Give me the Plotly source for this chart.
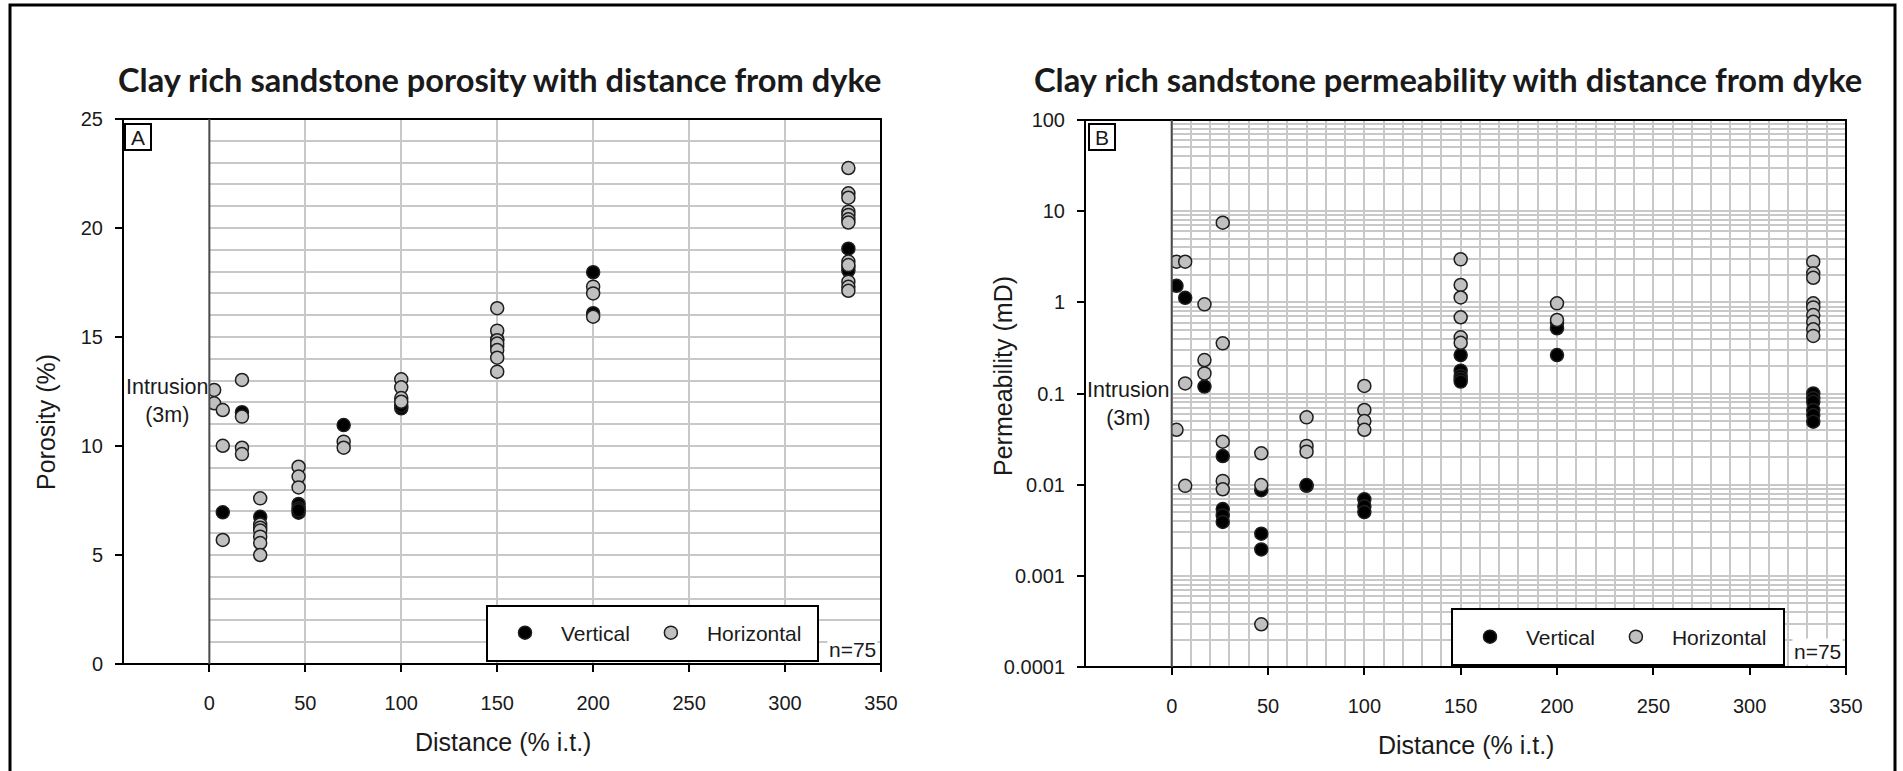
import plotly.graph_objects as go

W, H = 1903, 771

# ---------------- data ----------------
x_ticks = [0, 50, 100, 150, 200, 250, 300, 350]
por_ticks = [0, 5, 10, 15, 20, 25]
perm_tickvals = [0.0001, 0.001, 0.01, 0.1, 1, 10, 100]
perm_ticktext = ["0.0001", "0.001", "0.01", "0.1", "1", "10", "100"]

# Porosity (%), vertical plugs
por_v_x = [7, 17, 26.5, 46.5, 46.5, 46.5, 46.5, 70, 100, 100, 150, 150, 200, 200, 333, 333, 333]
por_v_y = [6.96, 11.55, 6.75, 7.34, 7.14, 6.94, 7.05, 10.96, 11.73, 11.85, 14.9, 14.56, 17.97, 16.09, 19.05, 18.22, 18.05]

# Porosity (%), horizontal plugs
por_h_x = [2.5, 2.5, 7, 7, 7, 17, 17, 17, 17,
           26.5, 26.5, 26.5, 26.5, 26.5, 26.5, 26.5,
           46.5, 46.5, 46.5, 70, 70, 100, 100, 100, 100,
           150, 150, 150, 150, 150, 150, 150, 200, 200, 200,
           333, 333, 333, 333, 333, 333, 333, 333, 333, 333, 333, 333]
por_h_y = [12.57, 11.96, 11.65, 10.01, 5.69, 13.03, 11.35, 9.92, 9.63,
           7.6, 6.4, 6.25, 6.12, 5.84, 5.55, 5.0,
           9.05, 8.6, 8.1, 10.2, 9.92, 13.06, 12.69, 12.2, 12.03,
           16.32, 15.29, 14.85, 14.7, 14.4, 14.05, 13.41, 17.31, 17.0, 15.93,
           22.75, 21.59, 21.39, 20.75, 20.6, 20.4, 20.25, 18.46, 18.3, 17.54, 17.3, 17.12]

# Permeability (mD), vertical plugs
perm_v_x = [2.5, 7, 17, 26.5, 26.5, 26.5, 26.5, 46.5, 46.5, 46.5, 70, 70,
            100, 100, 100, 150, 150, 150, 150, 150, 200, 200, 200,
            333, 333, 333, 333, 333, 333]
perm_v_y = [1.52, 1.12, 0.119, 0.0206, 0.0054, 0.0046, 0.0039, 0.0087, 0.0029, 0.00195, 0.0097, 0.0099,
            0.0069, 0.0058, 0.005, 0.264, 0.178, 0.156, 0.145, 0.135, 0.598, 0.519, 0.264,
            0.1, 0.0885, 0.081, 0.066, 0.058, 0.049]

# Permeability (mD), horizontal plugs
perm_h_x = [2.5, 2.5, 7, 7, 7, 17, 17, 17, 26.5, 26.5, 26.5, 26.5, 26.5,
            46.5, 46.5, 46.5, 70, 70, 70, 100, 100, 100, 100,
            150, 150, 150, 150, 150, 150, 200, 200,
            333, 333, 333, 333, 333, 333, 333, 333, 333]
perm_h_y = [2.79, 0.04, 2.79, 0.129, 0.0097, 0.95, 0.233, 0.166, 7.47, 0.355, 0.0296, 0.011, 0.0089,
            0.0221, 0.0099, 0.000294, 0.0548, 0.0266, 0.023, 0.121, 0.066, 0.0499, 0.04,
            2.96, 1.55, 1.13, 0.686, 0.413, 0.36, 0.975, 0.64,
            2.79, 2.08, 1.86, 0.975, 0.88, 0.726, 0.612, 0.506, 0.428]

# ---------------- styling ----------------
GRID = "#c8c8c8"
TXT = "#1a1a1a"
SANS = "Liberation Sans, Arial, sans-serif"
TITLE_FONT = "Lato, Open Sans, sans-serif"
BLACK_FILL = "#000000"
GREY_FILL = "#c0c0c0"
EDGE = "#1e1e1e"


def fx(p):
    return p / W


def fy(p):
    return 1 - p / H


fig = go.Figure()

mk_v = dict(size=13, color=BLACK_FILL, line=dict(color=EDGE, width=1.5))
mk_h = dict(size=13, color=GREY_FILL, line=dict(color=EDGE, width=1.5))

fig.add_trace(go.Scatter(x=por_v_x, y=por_v_y, mode="markers", name="Vertical", marker=mk_v,
                         xaxis="x", yaxis="y", legend="legend"))
fig.add_trace(go.Scatter(x=por_h_x, y=por_h_y, mode="markers", name="Horizontal", marker=mk_h,
                         xaxis="x", yaxis="y", legend="legend"))
fig.add_trace(go.Scatter(x=perm_v_x, y=perm_v_y, mode="markers", name="Vertical", marker=mk_v,
                         xaxis="x2", yaxis="y2", legend="legend2"))
fig.add_trace(go.Scatter(x=perm_h_x, y=perm_h_y, mode="markers", name="Horizontal", marker=mk_h,
                         xaxis="x2", yaxis="y2", legend="legend2"))

tick_common = dict(ticks="outside", ticklen=7, tickwidth=2, tickcolor="black", automargin=False,
                   tickfont=dict(family=SANS, size=20, color=TXT),
                   showgrid=True, gridcolor=GRID, gridwidth=2, zeroline=False, showline=False)

L_X0, L_X1, L_Y0, L_Y1 = 123, 881, 119, 664
R_X0, R_X1, R_Y0, R_Y1 = 1085, 1846, 120, 667

fig.update_layout(
    template="none",
    width=W, height=H,
    margin=dict(l=0, r=0, t=0, b=0, autoexpand=False),
    paper_bgcolor="white", plot_bgcolor="white",
    showlegend=True,
    xaxis=dict(domain=[fx(L_X0), fx(L_X1)], anchor="y", range=[-45, 350],
               tickmode="array", tickvals=x_ticks, ticklabelstandoff=14, **tick_common),
    yaxis=dict(domain=[fy(L_Y1), fy(L_Y0)], anchor="x", range=[0, 25],
               tickmode="array", tickvals=por_ticks, ticklabelstandoff=8,
               minor=dict(dtick=1, tick0=0, showgrid=True, gridcolor=GRID, gridwidth=2, ticks=""),
               **tick_common),
    xaxis2=dict(domain=[fx(R_X0), fx(R_X1)], anchor="y2", range=[-45, 350],
                tickmode="array", tickvals=x_ticks, ticklabelstandoff=14,
                minor=dict(dtick=10, tick0=0, showgrid=True, gridcolor=GRID, gridwidth=2, ticks=""),
                **tick_common),
    yaxis2=dict(domain=[fy(R_Y1), fy(R_Y0)], anchor="x2", type="log", range=[-4, 2],
                tickmode="array", tickvals=perm_tickvals, ticktext=perm_ticktext, ticklabelstandoff=8,
                minor=dict(dtick="D1", showgrid=True, gridcolor=GRID, gridwidth=2, ticks=""),
                **tick_common),
    legend=dict(orientation="h", x=fx(489), xanchor="left", y=fy(633), yanchor="middle",
                bgcolor="rgba(0,0,0,0)", borderwidth=0, itemwidth=62,
                font=dict(family=SANS, size=21, color=TXT)),
    legend2=dict(orientation="h", x=fx(1454), xanchor="left", y=fy(637), yanchor="middle",
                 bgcolor="rgba(0,0,0,0)", borderwidth=0, itemwidth=62,
                 font=dict(family=SANS, size=21, color=TXT)),
)

shapes = []
for xr, yr in (("x", "y"), ("x2", "y2")):
    # blank strip left of the dyke (x < 0)
    shapes.append(dict(type="rect", xref=xr, yref=yr + " domain", x0=-44.6, x1=0, y0=0.002, y1=0.998,
                       fillcolor="white", line=dict(width=0), layer="above"))
    # plot frame
    shapes.append(dict(type="rect", xref=xr + " domain", yref=yr + " domain", x0=0, x1=1, y0=0, y1=1,
                       line=dict(color="black", width=2), fillcolor="rgba(0,0,0,0)", layer="above"))
    # dyke margin line at x = 0
    shapes.append(dict(type="line", xref=xr, yref=yr + " domain", x0=0, x1=0, y0=0, y1=1,
                       line=dict(color="#4a4a4a", width=2), layer="above"))

# legend boxes
for (x0, x1, y0, y1) in ((487, 818, 606, 661), (1452, 1784, 609, 665)):
    shapes.append(dict(type="rect", xref="paper", yref="paper", x0=fx(x0), x1=fx(x1), y0=fy(y1), y1=fy(y0),
                       fillcolor="white", line=dict(color="black", width=2), layer="above"))

# outer figure frame (open at bottom)
shapes.append(dict(type="path", xref="paper", yref="paper",
                   path=f"M {fx(10)} 0 L {fx(10)} {fy(5)} L {fx(1895)} {fy(5)} L {fx(1895)} 0",
                   line=dict(color="black", width=3), layer="above"))

fig.update_layout(shapes=shapes)

ann = []


def add_text(text, x, y, size, family=SANS, **kw):
    d = dict(text=text, xref="paper", yref="paper", x=fx(x), y=fy(y), xanchor="center", yanchor="middle",
             showarrow=False, font=dict(family=family, size=size, color=TXT))
    d.update(kw)
    ann.append(d)


add_text("<b>Clay rich sandstone porosity with distance from dyke</b>", 499, 80, 32.6, TITLE_FONT)
add_text("<b>Clay rich sandstone permeability with distance from dyke</b>", 1448, 80, 32.7, TITLE_FONT)

add_text("Distance (% i.t.)", 503, 742, 25)
add_text("Distance (% i.t.)", 1466, 745, 25)
add_text("Porosity (%)", 46, 422, 25, textangle=-90)
add_text("Permeability (mD)", 1003, 376, 25, textangle=-90)

add_text("Intrusion<br>(3m)", 167, 401, 21.5)
add_text("Intrusion<br>(3m)", 1128, 404, 21.5)

add_text("A", 138, 137, 21, bordercolor="black", borderwidth=2, borderpad=1, bgcolor="white",
         width=22, height=22)
add_text("B", 1102, 137, 21, bordercolor="black", borderwidth=2, borderpad=1, bgcolor="white",
         width=22, height=22)

add_text("n=75", 852, 649, 21, bgcolor="white")
add_text("n=75", 1817, 651, 21, bgcolor="white")

fig.update_layout(annotations=ann)

fig.write_html("out.html", config={"displayModeBar": False},
               post_script="document.body.style.margin='0px';document.body.style.overflow='hidden';")
